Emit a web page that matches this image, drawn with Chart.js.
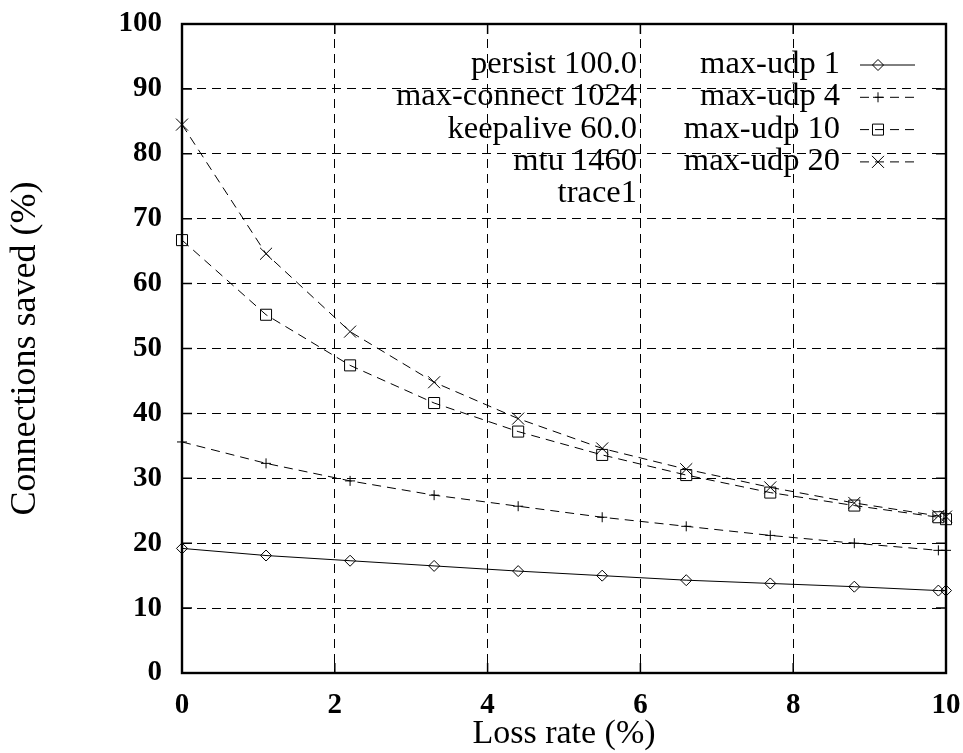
<!DOCTYPE html>
<html><head><meta charset="utf-8">
<script src="https://cdn.jsdelivr.net/npm/chart.js@4/dist/chart.umd.min.js"></script>
<style>html,body{margin:0;padding:0;background:#fff;}#wrap{width:963px;height:753px;}</style>
</head><body><div id="wrap"><canvas id="c" width="963" height="753"></canvas></div>
<script>
// ---- data ----
const lossRate = [0, 1.1, 2.2, 3.3, 4.4, 5.5, 6.6, 7.7, 8.8, 9.9, 10];
const maxUdp1  = [19.2, 18.1, 17.3, 16.5, 15.7, 15.0, 14.3, 13.8, 13.3, 12.7, 12.7];
const maxUdp4  = [35.6, 32.3, 29.6, 27.4, 25.7, 24.0, 22.6, 21.2, 20.0, 18.9, 18.9];
const maxUdp10 = [66.7, 55.2, 47.4, 41.6, 37.2, 33.6, 30.5, 27.8, 25.8, 24.0, 23.7];
const maxUdp20 = [84.5, 64.6, 52.6, 44.8, 39.2, 34.6, 31.4, 28.6, 26.2, 24.2, 24.1];
const seriesLabels = ['max-udp 1', 'max-udp 4', 'max-udp 10', 'max-udp 20'];
const infoLabels = ['persist 100.0', 'max-connect 1024', 'keepalive 60.0', 'mtu 1460', 'trace1'];
const xTicks = [0, 2, 4, 6, 8, 10];
const yTicks = [0, 10, 20, 30, 40, 50, 60, 70, 80, 90, 100];
const xTitle = 'Loss rate (%)';
const yTitle = 'Connections saved (%)';

const toPts = ys => lossRate.map((x, i) => ({x: x, y: ys[i]}));
const DASH = [9, 6];
const SERIF = '"Liberation Serif", "Times New Roman", serif';

function mk(label, ys, style, radius, dash) {
  return {
    label: label, data: toPts(ys), showLine: true,
    borderColor: '#000', backgroundColor: 'rgba(0,0,0,0)', borderWidth: 1,
    borderDash: dash, pointStyle: style, pointRadius: radius, pointHoverRadius: radius,
    pointBorderColor: '#000', pointBackgroundColor: 'rgba(0,0,0,0)', pointBorderWidth: 1,
    tension: 0, clip: false
  };
}

const datasets = [
  mk(seriesLabels[0], maxUdp1, 'rectRot', 5.5, []),
  mk(seriesLabels[1], maxUdp4, 'cross', 5, DASH),
  mk(seriesLabels[2], maxUdp10, 'rect', 7.8, DASH),
  mk(seriesLabels[3], maxUdp20, 'crossRot', 8.5, DASH)
];

const framePlugin = {
  id: 'frame',
  beforeDatasetsDraw(chart) {
    const {ctx, chartArea: a, scales} = chart;
    ctx.save();
    ctx.strokeStyle = '#000';
    ctx.setLineDash([]);
    ctx.lineWidth = 1.5;
    const L = 10;
    yTicks.forEach(v => {
      const y = scales.y.getPixelForValue(v);
      ctx.beginPath();
      ctx.moveTo(a.left, y); ctx.lineTo(a.left + L, y);
      ctx.moveTo(a.right, y); ctx.lineTo(a.right - L, y);
      ctx.stroke();
    });
    xTicks.forEach(v => {
      const x = scales.x.getPixelForValue(v);
      ctx.beginPath();
      ctx.moveTo(x, a.bottom); ctx.lineTo(x, a.bottom - L);
      ctx.moveTo(x, a.top); ctx.lineTo(x, a.top + L);
      ctx.stroke();
    });
    ctx.lineWidth = 2.4;
    ctx.strokeRect(a.left, a.top, a.right - a.left, a.bottom - a.top);
    ctx.restore();
  }
};

const keyPlugin = {
  id: 'gnukey',
  afterDatasetsDraw(chart) {
    const ctx = chart.ctx;
    const a = chart.chartArea;
    const base0 = a.top + 49, step = 32.3;
    const colL = a.left + 455, colR = a.left + 658;
    ctx.save();
    ctx.font = '32.5px ' + SERIF;
    ctx.fillStyle = '#000';
    ctx.textAlign = 'right';
    ctx.textBaseline = 'alphabetic';
    infoLabels.forEach((t, i) => ctx.fillText(t, colL, base0 + i * step));
    chart.data.datasets.forEach((ds, i) => {
      const by = base0 + i * step;
      ctx.fillStyle = '#000';
      ctx.fillText(ds.label, colR, by);
      const ly = by - 8;
      ctx.setLineDash(ds.borderDash || []);
      ctx.lineWidth = 1; ctx.strokeStyle = '#000';
      ctx.beginPath(); ctx.moveTo(colR + 20, ly); ctx.lineTo(colR + 75, ly); ctx.stroke();
      ctx.setLineDash([]);
      ctx.fillStyle = 'rgba(0,0,0,0)';
      Chart.helpers.drawPoint(ctx, {pointStyle: ds.pointStyle, radius: ds.pointRadius, borderWidth: 1, rotation: 0}, colR + 38, ly);
    });
    ctx.restore();
  }
};

const zeroPad = s => { s.paddingLeft = 0; s.paddingRight = 0; s.paddingTop = 0; s.paddingBottom = 0; };

new Chart(document.getElementById('c'), {
  type: 'scatter',
  data: {datasets: datasets},
  plugins: [framePlugin, keyPlugin],
  options: {
    responsive: false, animation: false, devicePixelRatio: 1,
    layout: {padding: {left: 0, top: 24, right: 17, bottom: 0}},
    plugins: {legend: {display: false}, tooltip: {enabled: false}},
    scales: {
      x: {
        type: 'linear', min: 0, max: 10,
        afterFit: s => { s.height = 80; zeroPad(s); },
        afterBuildTicks: s => { s.ticks = xTicks.map(v => ({value: v})); },
        grid: {color: '#000', lineWidth: 1, drawTicks: false},
        border: {display: false, dash: DASH},
        ticks: {color: '#000', padding: 15, font: {family: SERIF, size: 29, weight: 'bold'}, maxRotation: 0},
        title: {display: true, text: xTitle, color: '#000', font: {family: SERIF, size: 34, lineHeight: 1.1}, padding: {top: 0, bottom: 0}}
      },
      y: {
        type: 'linear', min: 0, max: 100,
        afterFit: s => { s.width = 182; zeroPad(s); },
        afterBuildTicks: s => { s.ticks = yTicks.map(v => ({value: v})); },
        grid: {color: '#000', lineWidth: 1, drawTicks: false},
        border: {display: false, dash: DASH},
        ticks: {color: '#000', padding: 20, font: {family: SERIF, size: 29, weight: 'bold'}},
        title: {display: true, text: yTitle, color: '#000', font: {family: SERIF, size: 36}, padding: {top: 4, bottom: 0}}
      }
    }
  }
});
</script></body></html>
